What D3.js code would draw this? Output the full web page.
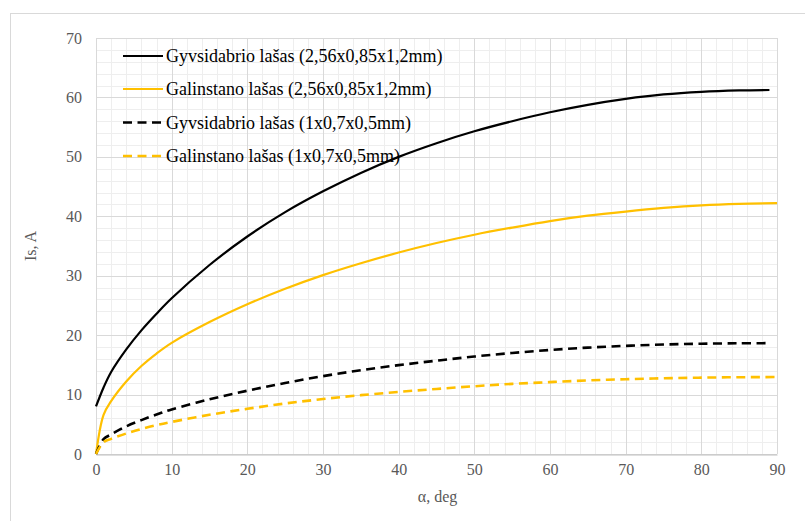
<!DOCTYPE html>
<html>
<head>
<meta charset="utf-8">
<script src="https://cdn.jsdelivr.net/npm/d3@7"></script>
<style>
  html, body { margin: 0; padding: 0; background: #fff; }
  svg { display: block; }
</style>
</head>
<body>
<svg id="chart" width="805" height="521"></svg>
<script>
// Angle values (deg) at which the current was computed
const anglesLong = [0, 1, 2, 4, 6, 8, 10, 15, 20, 25, 30, 35, 40, 45, 50, 55, 60, 65, 70, 75, 80, 85, 89];
const anglesFull = [0, 1, 2, 4, 6, 8, 10, 15, 20, 25, 30, 35, 40, 45, 50, 55, 60, 65, 70, 75, 80, 85, 90];

// Current Is (A) for each droplet
const hgLarge  = [8.0, 11.2, 13.8, 17.6, 20.8, 23.6, 26.2, 31.8, 36.6, 40.7, 44.2, 47.3, 50.0, 52.3, 54.3, 56.0, 57.5, 58.75, 59.75, 60.5, 60.95, 61.18, 61.25];
const galLarge = [0, 6.6, 8.9, 12.2, 14.8, 16.9, 18.7, 22.2, 25.2, 27.8, 30.1, 32.1, 33.9, 35.5, 36.9, 38.1, 39.2, 40.1, 40.8, 41.4, 41.85, 42.1, 42.2];
const hgSmall  = [0, 2.5, 3.3, 4.65, 5.7, 6.65, 7.5, 9.2, 10.65, 11.95, 13.1, 14.1, 14.95, 15.7, 16.4, 17.0, 17.5, 17.9, 18.2, 18.42, 18.56, 18.63, 18.65];
const galSmall = [0, 2.0, 2.55, 3.45, 4.2, 4.85, 5.4, 6.6, 7.6, 8.5, 9.25, 9.9, 10.45, 10.95, 11.4, 11.8, 12.1, 12.38, 12.58, 12.74, 12.85, 12.92, 12.95];

const seriesNames = [
  "Gyvsidabrio lašas (2,56x0,85x1,2mm)",
  "Galinstano lašas (2,56x0,85x1,2mm)",
  "Gyvsidabrio lašas (1x0,7x0,5mm)",
  "Galinstano lašas (1x0,7x0,5mm)"
];

const xTicks = [0, 10, 20, 30, 40, 50, 60, 70, 80, 90];
const yTicks = [0, 10, 20, 30, 40, 50, 60, 70];
const xTitle = "α, deg";
const yTitle = "Is, A";

const series = [
  { name: seriesNames[0], x: anglesLong, y: hgLarge,  color: "#000000", dash: null },
  { name: seriesNames[1], x: anglesFull, y: galLarge, color: "#FFC000", dash: null },
  { name: seriesNames[2], x: anglesLong, y: hgSmall,  color: "#000000", dash: "9,5.5" },
  { name: seriesNames[3], x: anglesFull, y: galSmall, color: "#FFC000", dash: "9,5.5" }
];

const svg = d3.select("#chart");
const font = "'Liberation Serif', 'Times New Roman', serif";

// Chart frame
svg.append("rect")
  .attr("x", 10.5).attr("y", 13.5)
  .attr("width", 820).attr("height", 540)
  .attr("fill", "#fff").attr("stroke", "#d9d9d9").attr("stroke-width", 1);

const plot = { left: 96, right: 777, top: 38, bottom: 454 };
const x = d3.scaleLinear().domain([0, 90]).range([plot.left, plot.right]);
const y = d3.scaleLinear().domain([0, 70]).range([plot.bottom, plot.top]);

const g = svg.append("g");

// Minor grid (every 2 units)
const minorX = d3.range(0, 91, 2).filter(v => v % 10 !== 0);
const minorY = d3.range(0, 71, 2).filter(v => v % 10 !== 0);
g.selectAll(".mgx").data(minorX).join("line")
  .attr("x1", d => Math.round(x(d)) + 0.5).attr("x2", d => Math.round(x(d)) + 0.5)
  .attr("y1", plot.top).attr("y2", plot.bottom)
  .attr("stroke", "#eeeeee").attr("stroke-width", 1);
g.selectAll(".mgy").data(minorY).join("line")
  .attr("y1", d => Math.round(y(d)) + 0.5).attr("y2", d => Math.round(y(d)) + 0.5)
  .attr("x1", plot.left).attr("x2", plot.right)
  .attr("stroke", "#eeeeee").attr("stroke-width", 1);

// Major grid
g.selectAll(".gx").data(xTicks).join("line")
  .attr("x1", d => Math.round(x(d)) + 0.5).attr("x2", d => Math.round(x(d)) + 0.5)
  .attr("y1", plot.top).attr("y2", plot.bottom)
  .attr("stroke", "#d9d9d9").attr("stroke-width", 1);
g.selectAll(".gy").data(yTicks).join("line")
  .attr("y1", d => Math.round(y(d)) + 0.5).attr("y2", d => Math.round(y(d)) + 0.5)
  .attr("x1", plot.left).attr("x2", plot.right)
  .attr("stroke", "#d9d9d9").attr("stroke-width", 1);

// X axis
const xAxis = svg.append("g")
  .attr("transform", `translate(0,${Math.round(y(0)) + 0.5})`)
  .call(d3.axisBottom(x).tickValues(xTicks).tickSize(0).tickPadding(9));
xAxis.select(".domain").attr("stroke", "#bfbfbf");
xAxis.selectAll("text").attr("font-family", font).attr("font-size", 16).attr("fill", "#595959");

// Y axis
const yAxis = svg.append("g")
  .attr("transform", `translate(${plot.left},0)`)
  .call(d3.axisLeft(y).tickValues(yTicks).tickSize(0).tickPadding(14));
yAxis.select(".domain").remove();
yAxis.selectAll("text").attr("font-family", font).attr("font-size", 16).attr("fill", "#595959");

// Axis titles
svg.append("text")
  .attr("x", x(45) + 1).attr("y", 502)
  .attr("text-anchor", "middle")
  .attr("font-family", font).attr("font-size", 16).attr("fill", "#595959")
  .text(xTitle);
svg.append("text")
  .attr("transform", `translate(36,${(plot.top + plot.bottom) / 2}) rotate(-90)`)
  .attr("text-anchor", "middle")
  .attr("font-family", font).attr("font-size", 16).attr("fill", "#595959")
  .text(yTitle);

// Smoothed curves through the computed points
const line = d3.line()
  .x(d => x(d[0])).y(d => y(d[1]))
  .curve(d3.curveCatmullRom.alpha(0.5));

svg.append("g").selectAll("path").data(series).join("path")
  .attr("d", s => line(s.x.map((a, i) => [a, s.y[i]])))
  .attr("fill", "none")
  .attr("stroke", s => s.color)
  .attr("stroke-width", s => s.dash ? 2.6 : 2.2)
  .attr("stroke-dasharray", s => s.dash);

// Legend
const legend = svg.append("g");
const rowY = [56, 89, 122.5, 156];
series.forEach((s, i) => {
  const row = legend.append("g").attr("transform", `translate(0,${rowY[i]})`);
  row.append("line")
    .attr("x1", 123).attr("x2", 163).attr("y1", 0).attr("y2", 0)
    .attr("stroke", s.color).attr("stroke-width", s.dash ? 2.6 : 2.2)
    .attr("stroke-dasharray", s.dash);
  row.append("text")
    .attr("x", 166).attr("y", 0).attr("dy", "0.34em")
    .attr("font-family", font).attr("font-size", 18).attr("fill", "#000")
    .text(s.name);
});
</script>
</body>
</html>
